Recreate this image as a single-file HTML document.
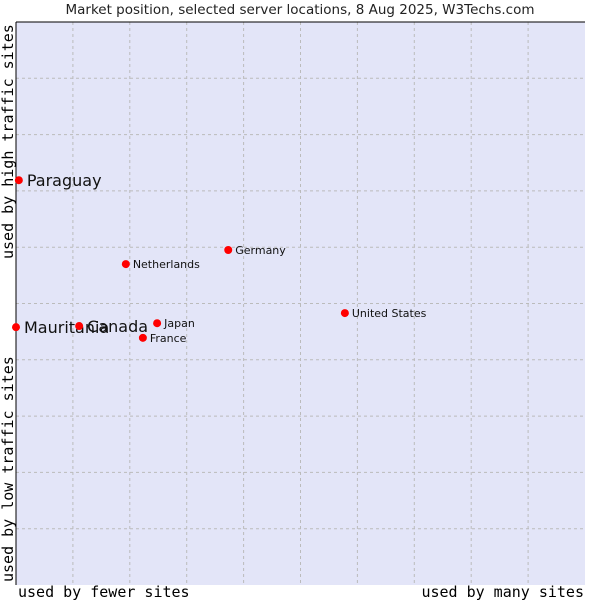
<!DOCTYPE html>
<html><head><meta charset="utf-8"><style>
body{margin:0;background:#fff;width:600px;height:600px;overflow:hidden}
svg{display:block}
</style></head><body>
<svg id="chart" width="600" height="600" xmlns="http://www.w3.org/2000/svg">
<text x="300" y="14" text-anchor="middle" font-family="DejaVu Sans, sans-serif" font-size="13.5" fill="#222">Market position, selected server locations, 8 Aug 2025, W3Techs.com</text>
<rect x="16" y="22" width="569" height="563" fill="#e3e5f8"/>
<g id="grid"></g>
<line x1="16" y1="22" x2="16" y2="585" stroke="#000"/>
<line x1="16" y1="22" x2="585" y2="22" stroke="#000"/>
<g id="points"></g>
<text x="18" y="597" font-family="DejaVu Sans Mono, monospace" font-size="15" fill="#000">used by fewer sites</text>
<text x="584" y="597" text-anchor="end" font-family="DejaVu Sans Mono, monospace" font-size="15" fill="#000">used by many sites</text>
<text transform="translate(13,259) rotate(-90)" font-family="DejaVu Sans Mono, monospace" font-size="15" fill="#000">used by high traffic sites</text>
<text transform="translate(13,582) rotate(-90)" font-family="DejaVu Sans Mono, monospace" font-size="15" fill="#000">used by low traffic sites</text>
</svg>
<script>
const names = ["Paraguay","Mauritania","Canada","Netherlands","Germany","Japan","France","United States"];
const xValues = [0.5,0,11.1,19.3,37.3,24.8,22.3,57.8];
const yValues = [71.9,45.8,46.0,57.0,59.5,46.5,43.9,48.3];
const bigLabel = [true,true,true,false,false,false,false,false];
const NS="http://www.w3.org/2000/svg";
const L=16,R=585,T=22,B=585;
function xs(v){return L+(R-L)*v/100;}
function ys(v){return B-(B-T)*v/100;}
const grid=document.getElementById('grid');
for(let i=1;i<10;i++){
  const v=document.createElementNS(NS,'line');
  v.setAttribute('x1',xs(i*10));v.setAttribute('x2',xs(i*10));v.setAttribute('y1',T);v.setAttribute('y2',B);
  v.setAttribute('stroke','#bbbbbb');v.setAttribute('stroke-dasharray','3,3');
  
  
  grid.appendChild(v);
  const h=document.createElementNS(NS,'line');
  h.setAttribute('y1',ys(i*10));h.setAttribute('y2',ys(i*10));h.setAttribute('x1',L);h.setAttribute('x2',R);
  h.setAttribute('stroke','#bbbbbb');h.setAttribute('stroke-dasharray','3,3');
  
  
  grid.appendChild(h);
}
const pts=document.getElementById('points');
for(let i=0;i<names.length;i++){
  const x=xs(xValues[i]),y=ys(yValues[i]);
  const c=document.createElementNS(NS,'circle');
  c.setAttribute('cx',x);c.setAttribute('cy',y);c.setAttribute('r',4);c.setAttribute('fill','#ff0000');
  
  
  pts.appendChild(c);
  const t=document.createElementNS(NS,'text');
  t.setAttribute('x',x+(bigLabel[i]?8:7));t.setAttribute('y',y+(bigLabel[i]?6:4));
  t.setAttribute('font-family','DejaVu Sans, sans-serif');
  t.setAttribute('font-size',bigLabel[i]?16:11);t.setAttribute('fill','#111');
  t.textContent=names[i];
  
  
  pts.appendChild(t);
}
</script>
</body></html>
